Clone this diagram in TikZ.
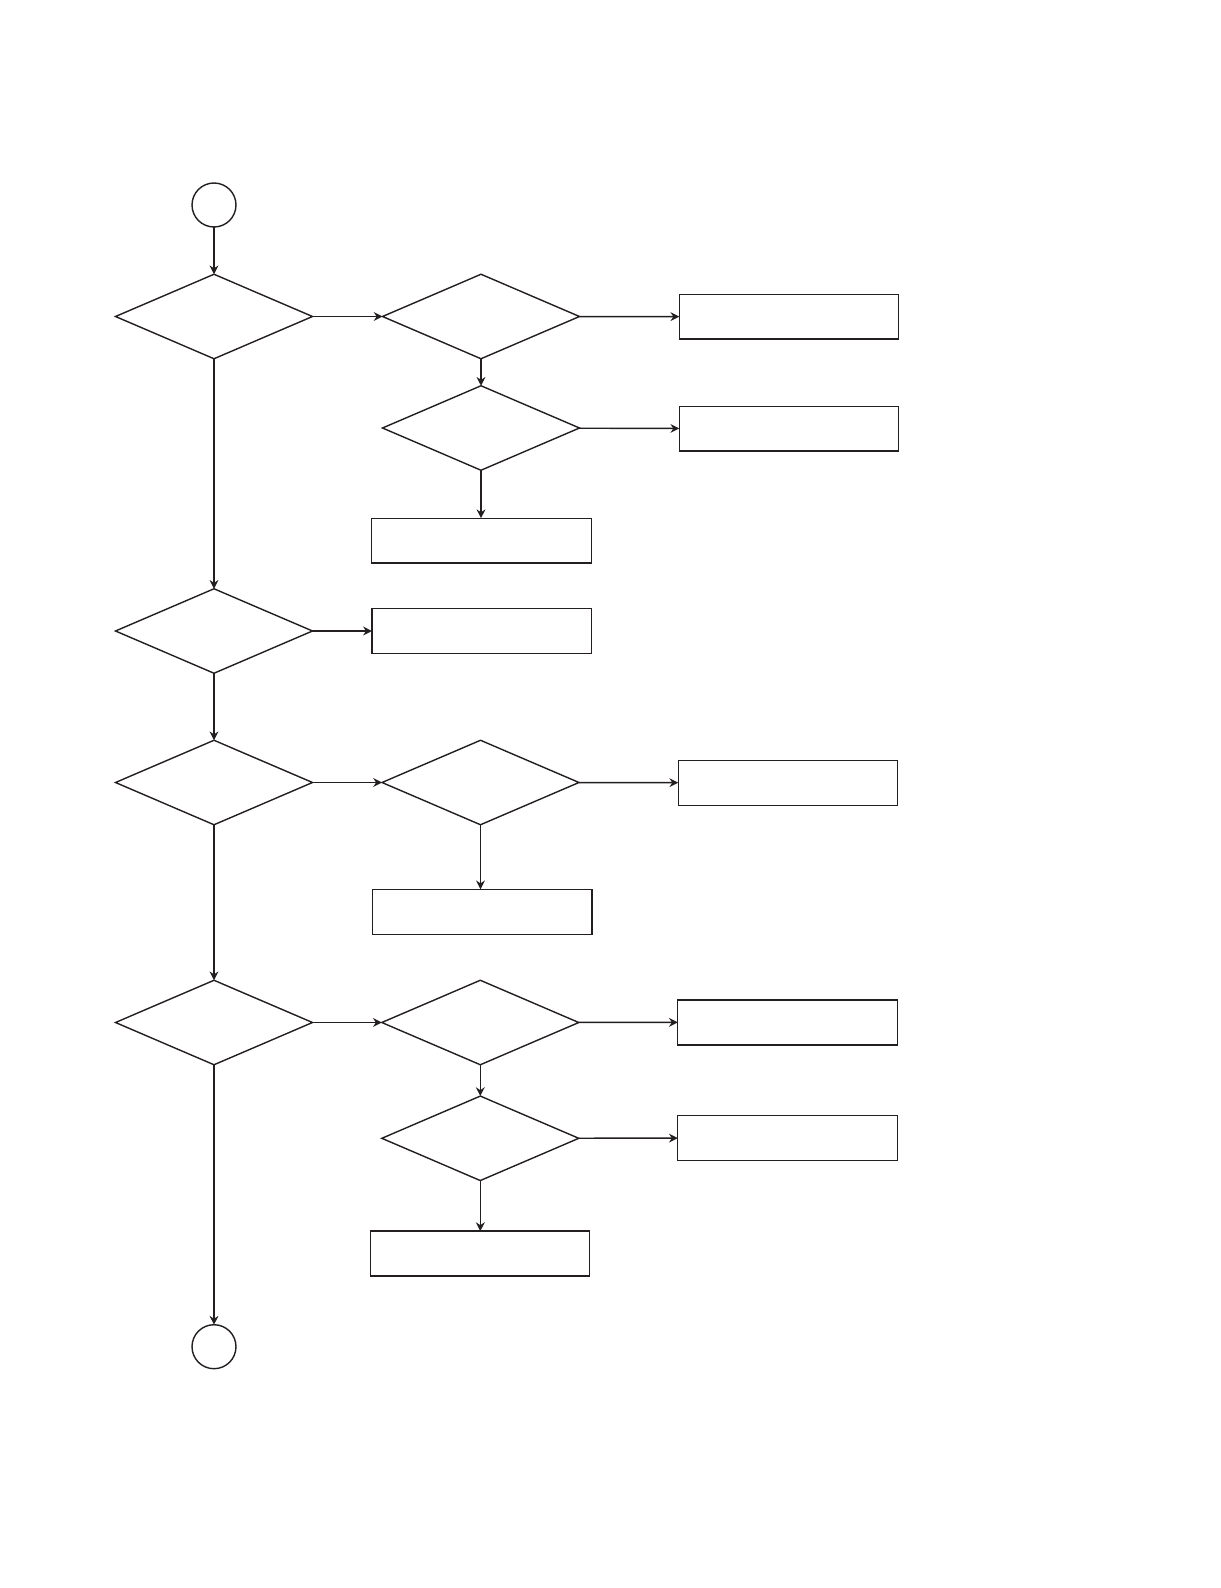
\documentclass[tikz,border=0pt]{standalone}
\usetikzlibrary{shapes.geometric,arrows.meta}
\definecolor{ink}{RGB}{35,31,32}
\tikzset{
  decision/.style={draw=ink, diamond, minimum width=3.94cm, minimum height=1.69cm, inner sep=0pt, outer sep=0pt},
  procbox/.style={draw=ink, rectangle, minimum width=4.39cm, minimum height=0.9cm, inner sep=0pt, outer sep=0pt},
  term/.style={draw=ink, circle, minimum size=0.88cm, inner sep=0pt, outer sep=0pt},
  flow/.style={draw=ink, -{Stealth[length=5pt,width=5pt]}}
}
\begin{document}
\begin{tikzpicture}[x=0.02cm,y=-0.02cm,line width=0.8pt]
  \useasboundingbox (0,0) rectangle (1220,1588);
  % left column
  \node[term] (start) at (214,205) {};
  \node[decision] (q1) at (214,316.5) {};
  \node[decision] (q4) at (214,631) {};
  \node[decision] (q5) at (214,782.5) {};
  \node[decision] (q7) at (214,1022.5) {};
  \node[term] (stop) at (214,1346.7) {};
  % middle column
  \node[decision] (q2) at (481,316.5) {};
  \node[decision] (q3) at (481,428) {};
  \node[procbox] (b3) at (481.5,540.7) {};
  \node[procbox] (b4) at (481.7,631) {};
  \node[decision] (q6) at (480.5,782.5) {};
  \node[procbox] (b6) at (482.3,911.8) {};
  \node[decision] (q8) at (480.3,1022.5) {};
  \node[decision] (q9) at (480.3,1138.3) {};
  \node[procbox] (b9) at (480,1253.6) {};
  % right column
  \node[procbox] (b1) at (789,316.7) {};
  \node[procbox] (b2) at (789,428.7) {};
  \node[procbox] (b5) at (788,782.8) {};
  \node[procbox] (b7) at (787.5,1022.3) {};
  \node[procbox] (b8) at (787.5,1138) {};
  % connectors
  \draw[flow] (start) -- (q1);
  \draw[flow] (q1) -- (q2);
  \draw[flow] (q2) -- (b1);
  \draw[flow] (q2) -- (q3);
  \draw[flow] (q3) -- (b2);
  \draw[flow] (q3.south) -- (q3.south |- b3.north);
  \draw[flow] (q1) -- (q4);
  \draw[flow] (q4) -- (b4);
  \draw[flow] (q4) -- (q5);
  \draw[flow] (q5) -- (q6);
  \draw[flow] (q6) -- (b5);
  \draw[flow] (q6.south) -- (q6.south |- b6.north);
  \draw[flow] (q5) -- (q7);
  \draw[flow] (q7) -- (q8);
  \draw[flow] (q8) -- (b7);
  \draw[flow] (q8) -- (q9);
  \draw[flow] (q9) -- (b8);
  \draw[flow] (q9.south) -- (q9.south |- b9.north);
  \draw[flow] (q7) -- (stop);
\end{tikzpicture}
\end{document}
